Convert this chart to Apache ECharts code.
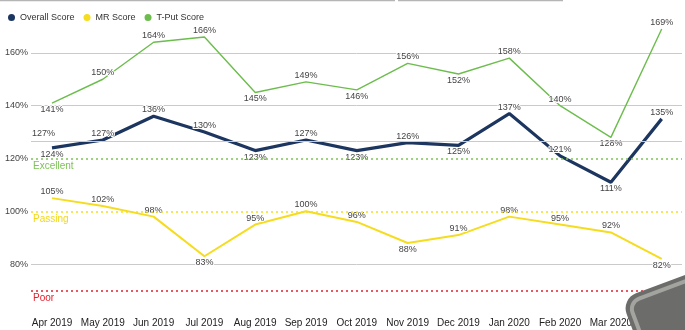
<!DOCTYPE html>
<html>
<head>
<meta charset="utf-8">
<script src="https://cdn.jsdelivr.net/npm/echarts@6/dist/echarts.min.js"></script>
<style>
  html, body { margin: 0; padding: 0; background: #fff; }
  #chart { width: 685px; height: 330px; }
</style>
</head>
<body>
<div id="chart"></div>
<script>
// Monthly scores
const months = ['Apr 2019', 'May 2019', 'Jun 2019', 'Jul 2019', 'Aug 2019', 'Sep 2019',
  'Oct 2019', 'Nov 2019', 'Dec 2019', 'Jan 2020', 'Feb 2020', 'Mar 2020', 'Apr 2020'];
const overallScore = [124, 127, 136, 130, 123, 127, 123, 126, 125, 137, 121, 111, 135];
const mrScore = [105, 102, 98, 83, 95, 100, 96, 88, 91, 98, 95, 92, 82];
const tputScore = [141, 150, 164, 166, 145, 149, 146, 156, 152, 158, 140, 128, 169];

// Where each value label sits relative to its point
const overallLabelSide = ['bottom', 'top', 'top', 'top', 'bottom', 'top', 'bottom', 'top', 'bottom', 'top', 'top', 'bottom', 'top'];
const mrLabelSide = ['top', 'top', 'top', 'bottom', 'top', 'top', 'top', 'bottom', 'top', 'top', 'top', 'top', 'bottom'];
const tputLabelSide = ['bottom', 'top', 'top', 'top', 'bottom', 'top', 'bottom', 'top', 'bottom', 'top', 'top', 'bottom', 'top'];

// Score bands
const excellentLevel = 120;
const passingLevel = 100;
const poorLevel = 70;

// Axis range
const yMin = 60, yMax = 180, yStep = 20;

const FONT = '"Liberation Sans", Arial, sans-serif';
const FS = 9;
const FS_MONTH = 10;
const FS_BAND = 10;

const C_OVERALL = '#1d3660';
const C_MR = '#f6dc1e';
const C_TPUT = '#6cbd4d';

const chart = echarts.init(document.getElementById('chart'), null, { renderer: 'canvas' });

function withLabels(values, sides) {
  return values.map((v, i) => ({ value: v, label: { position: sides[i] } }));
}

const valueLabel = {
  show: true,
  formatter: '{c}%',
  fontFamily: FONT,
  fontSize: FS,
  color: '#444',
  distance: 2,
  textBorderColor: '#fff',
  textBorderWidth: 2
};

const transparent = 'rgba(0,0,0,0)';

function scoreSeries(name, values, sides, color, width, z) {
  return {
    name: name,
    type: 'line',
    xAxisIndex: 1, yAxisIndex: 1,
    data: withLabels(values, sides),
    symbol: 'circle',
    symbolSize: 0.01,
    showSymbol: true,
    itemStyle: { color: color },
    lineStyle: { color: color, width: width },
    label: valueLabel,
    labelLayout: { hideOverlap: false },
    emphasis: { disabled: true },
    z: z
  };
}

const option = {
  animation: false,
  textStyle: { fontFamily: FONT },
  legend: {
    left: 3,
    top: 8,
    icon: 'circle',
    itemWidth: 7,
    itemHeight: 7,
    itemGap: 9,
    textStyle: { fontFamily: FONT, fontSize: FS, color: '#333' },
    data: ['Overall Score', 'MR Score', 'T-Put Score']
  },
  grid: [
    // axes, gridlines and score bands
    { left: 31, right: 3, top: 0, bottom: 13 },
    // score lines and month axis
    { left: 52, right: 22, top: 0, bottom: 13 }
  ],
  xAxis: [
    { gridIndex: 0, type: 'category', data: months, show: false },
    {
      gridIndex: 1, type: 'category', data: months, boundaryGap: false,
      axisLine: { show: false }, axisTick: { show: false },
      axisLabel: { fontFamily: FONT, fontSize: FS_MONTH, color: '#222', margin: 1, interval: 0 }
    }
  ],
  yAxis: [
    {
      gridIndex: 0, type: 'value', min: yMin, max: yMax, interval: yStep,
      axisLine: { show: false }, axisTick: { show: false },
      axisLabel: {
        fontFamily: FONT, fontSize: FS, color: '#444', margin: 3,
        showMinLabel: false, showMaxLabel: false,
        formatter: v => v + '%'
      },
      splitLine: {
        show: true,
        lineStyle: {
          width: 1,
          color: [transparent, '#cacaca', transparent, transparent, '#cacaca', '#cacaca', transparent]
        }
      }
    },
    { gridIndex: 1, type: 'value', min: yMin, max: yMax, interval: yStep, show: false, splitLine: { show: false } }
  ],
  series: [
    {
      // carries the overall average and the score band lines across the full plot width
      name: 'bands',
      type: 'line',
      xAxisIndex: 0, yAxisIndex: 0,
      data: overallScore,
      showSymbol: false,
      silent: true,
      lineStyle: { opacity: 0 },
      z: 1,
      markLine: {
        silent: true,
        symbol: ['none', 'none'],
        animation: false,
        data: [
          {
            type: 'average',
            lineStyle: { color: '#cacaca', type: 'solid', width: 1 },
            label: {
              position: 'insideStartTop', distance: [1, 3],
              formatter: p => Math.round(p.value) + '%',
              fontFamily: FONT, fontSize: FS, color: '#444'
            }
          },
          {
            yAxis: excellentLevel,
            lineStyle: { color: '#7dc255', type: [2, 3], width: 1.6 },
            label: {
              position: 'insideStartBottom', distance: [2, 3], formatter: 'Excellent',
              fontFamily: FONT, fontSize: FS_BAND, color: '#7dc255'
            }
          },
          {
            yAxis: passingLevel,
            lineStyle: { color: '#f6e01a', type: [2, 3], width: 1.6 },
            label: {
              position: 'insideStartBottom', distance: [2, 3], formatter: 'Passing',
              fontFamily: FONT, fontSize: FS_BAND, color: '#f2d816'
            }
          },
          {
            yAxis: poorLevel,
            lineStyle: { color: '#e3212e', type: [2, 3], width: 1.6 },
            label: {
              position: 'insideStartBottom', distance: [2, 3], formatter: 'Poor',
              fontFamily: FONT, fontSize: FS_BAND, color: '#e3212e'
            }
          }
        ]
      }
    },
    scoreSeries('T-Put Score', tputScore, tputLabelSide, C_TPUT, 1.4, 3),
    scoreSeries('MR Score', mrScore, mrLabelSide, C_MR, 2, 3),
    scoreSeries('Overall Score', overallScore, overallLabelSide, C_OVERALL, 3.2, 4)
  ],
  graphic: [
    // thin rule along the top edge
    { type: 'line', shape: { x1: 0, y1: 0.5, x2: 395, y2: 0.5 }, style: { stroke: '#b5b5b5', lineWidth: 1.5 }, z: 50 },
    { type: 'line', shape: { x1: 398, y1: 0.5, x2: 563, y2: 0.5 }, style: { stroke: '#b5b5b5', lineWidth: 1.5 }, z: 50 },
    // grey rounded panel in the lower right corner
    {
      type: 'group',
      x: 621, y: 299,
      rotation: 0.36,
      z: 100,
      children: [
        { type: 'rect', shape: { x: 0, y: 0, width: 220, height: 160, r: 16 }, style: { fill: '#6c6c6a' }, z: 100 },
        { type: 'rect', shape: { x: 6, y: 6, width: 208, height: 148, r: 11 }, style: { fill: '#6c6c6a', stroke: '#a3a39f', lineWidth: 4 }, z: 101 }
      ]
    }
  ]
};

chart.setOption(option);
</script>
</body>
</html>
